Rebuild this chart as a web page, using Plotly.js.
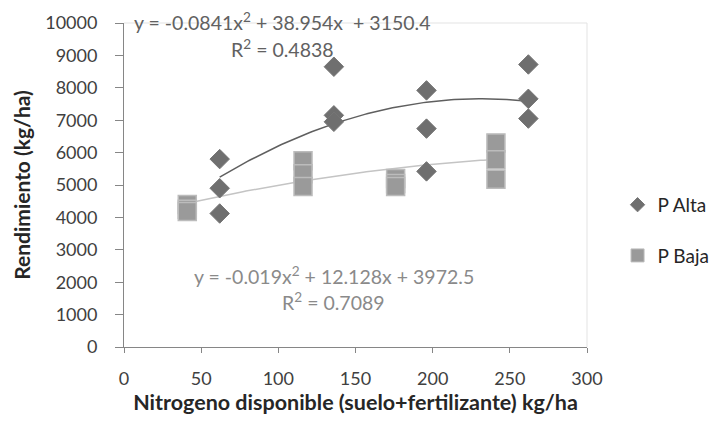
<!DOCTYPE html>
<html>
<head>
<meta charset="utf-8">
<script src="https://cdn.plot.ly/plotly-3.0.1.min.js"></script>
<style>html,body{margin:0;padding:0;background:#fff;}#chart{width:718px;height:423px;}</style>
</head>
<body>
<div id="chart"></div>
<script>
// Data
const altaX = [62, 62, 62, 136, 136, 136, 196, 196, 196, 262, 262, 262];
const altaY = [5800, 4900, 4120, 8650, 7150, 6950, 7920, 6740, 5420, 8720, 7660, 7050];
const bajaX = [41, 41, 41, 116, 116, 116, 176, 176, 176, 241, 241, 241];
const bajaY = [4400, 4250, 4180, 5750, 5350, 4950, 5200, 5050, 4950, 6300, 5780, 5180];
// Polynomial trendline coefficients (a, b, c) shown on the chart
const altaFit = [-0.0841, 38.954, 3150.4];
const bajaFit = [-0.019, 12.128, 3972.5];
const altaEq = "y = -0.0841x<sup>2</sup> + 38.954x  + 3150.4";
const altaR2 = "R<sup>2</sup> = 0.4838";
const bajaEq = "y = -0.019x<sup>2</sup> + 12.128x + 3972.5";
const bajaR2 = "R<sup>2</sup> = 0.7089";

function trend(xs, c) {
  const lo = Math.min(...xs), hi = Math.max(...xs);
  const X = [], Y = [];
  for (let i = 0; i <= 100; i++) {
    const x = lo + (hi - lo) * i / 100;
    X.push(x); Y.push(c[0] * x * x + c[1] * x + c[2]);
  }
  return {X, Y};
}
const ta = trend(altaX, altaFit), tb = trend(bajaX, bajaFit);

const F = "Lato, 'Open Sans', sans-serif";
const data = [
  {x: tb.X, y: tb.Y, mode: 'lines', line: {color: '#c4c4c4', width: 1.5}, showlegend: false, hoverinfo: 'skip'},
  {x: bajaX, y: bajaY, mode: 'markers', name: 'P Baja', showlegend: false,
   marker: {symbol: 'square', size: 18, color: '#9a9a9a', line: {color: '#bcbcbc', width: 1.5}}},
  {x: ta.X, y: ta.Y, mode: 'lines', line: {color: '#5f5f5f', width: 1.5}, showlegend: false, hoverinfo: 'skip'},
  {x: altaX, y: altaY, mode: 'markers', name: 'P Alta', showlegend: false,
   marker: {symbol: 'diamond', size: 15, color: '#6f6f6f', line: {color: '#767676', width: 1}}},
  // legend entries (smaller symbols, as in the reference legend)
  {x: [null], y: [null], mode: 'markers', name: 'P Alta', legendgroup: 'a', legendrank: 1,
   marker: {symbol: 'diamond', size: 11, color: '#6f6f6f', line: {color: '#767676', width: 1}}},
  {x: [null], y: [null], mode: 'markers', name: 'P Baja', legendgroup: 'b', legendrank: 2,
   marker: {symbol: 'square', size: 13, color: '#9a9a9a', line: {color: '#bcbcbc', width: 1}}}
];

const layout = {
  width: 718, height: 423,
  margin: {l: 123.5, r: 130.5, t: 22.7, b: 75.7, pad: 0, autoexpand: false},
  paper_bgcolor: '#ffffff', plot_bgcolor: '#ffffff',
  font: {family: F, color: '#404040', size: 18},
  xaxis: {
    range: [0, 300], dtick: 50, tick0: 0, showgrid: false, zeroline: false,
    showline: true, linecolor: '#868686', linewidth: 1, tickformat: 'd',
    ticks: 'outside', ticklen: 5, tickcolor: '#868686', ticklabelstandoff: 10,
    tickfont: {family: F, size: 18, color: '#404040'},
    title: {text: '<b>Nitrogeno disponible (suelo+fertilizante) kg/ha</b>', font: {family: F, size: 21.5, color: '#262626'}, standoff: 6}
  },
  yaxis: {
    range: [0, 10000], dtick: 1000, showgrid: false, zeroline: false,
    showline: true, linecolor: '#868686', linewidth: 1, tickformat: 'd',
    ticks: 'outside', ticklen: 8, tickcolor: '#868686', ticklabelstandoff: 14,
    tickfont: {family: F, size: 18, color: '#404040'},
    title: {text: '<b>Rendimiento (kg/ha)</b>', font: {family: F, size: 21, color: '#262626'}, standoff: 8}
  },
  shapes: [
    {type: 'line', xref: 'paper', yref: 'paper', x0: 0, x1: 1, y0: 1, y1: 1, line: {color: '#e3e3e3', width: 1}},
    {type: 'line', xref: 'paper', yref: 'paper', x0: 1, x1: 1, y0: 0, y1: 1, line: {color: '#e3e3e3', width: 1}}
  ],
  annotations: [
    {x: 103, y: 10000, yshift: 2, xref: 'x', yref: 'y', text: altaEq, showarrow: false, font: {family: F, size: 19.5, color: '#616161'}},
    {x: 103, y: 9200, xref: 'x', yref: 'y', text: altaR2, showarrow: false, font: {family: F, size: 19.5, color: '#616161'}},
    {x: 136, y: 2200, xref: 'x', yref: 'y', text: bajaEq, showarrow: false, font: {family: F, size: 19.5, color: '#8a8a8a'}},
    {x: 136, y: 1400, xref: 'x', yref: 'y', text: bajaR2, showarrow: false, font: {family: F, size: 19.5, color: '#8a8a8a'}}
  ],
  legend: {x: 1.066, xanchor: 'left', y: 0.36, yanchor: 'middle', traceorder: 'grouped', tracegroupgap: 23,
    font: {family: F, size: 19, color: '#262626'}, itemwidth: 30, bgcolor: 'rgba(0,0,0,0)'},
  showlegend: true
};

Plotly.newPlot('chart', data, layout, {displayModeBar: false, staticPlot: true});
</script>
</body>
</html>
